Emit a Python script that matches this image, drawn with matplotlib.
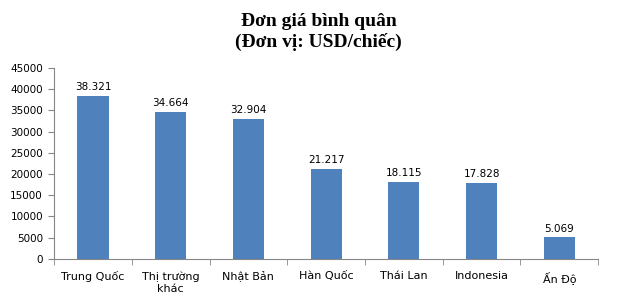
import matplotlib
matplotlib.use('Agg')
from matplotlib import pyplot as plt
import numpy as np

# Data
markets = ['Trung Quốc', 'Thị trường\nkhác', 'Nhật Bản', 'Hàn Quốc', 'Thái Lan', 'Indonesia', 'Ấn Độ']
prices = [38321, 34664, 32904, 21217, 18115, 17828, 5069]
value_labels = ['38.321', '34.664', '32.904', '21.217', '18.115', '17.828', '5.069']

bar_color = '#4F81BD'
axis_color = '#868686'

fig = plt.figure(figsize=(6.37, 3.06), dpi=100)
ax = fig.add_axes([0.085, 0.154, 0.854, 0.624])

x = np.arange(len(markets))
ax.bar(x, prices, width=0.4, color=bar_color, zorder=2)

for xi, val, lab in zip(x, prices, value_labels):
    ax.text(xi, val + 900, lab, ha='center', va='bottom', fontsize=7.5,
            family='DejaVu Sans')

ax.set_xlim(-0.5, len(markets) - 0.5)
ax.set_ylim(0, 45000)
ax.set_yticks(range(0, 45001, 5000))
ax.set_yticklabels([str(v) for v in range(0, 45001, 5000)], fontsize=7.5)

# category labels in the middle, tick marks between categories
ax.set_xticks(x)
ax.set_xticklabels(markets, fontsize=8, linespacing=1.3)
ax.tick_params(axis='x', length=0, pad=9)
ax.set_xticks(np.arange(-0.5, len(markets)), minor=True)
ax.tick_params(axis='x', which='minor', length=4, direction='out', color=axis_color)
ax.tick_params(axis='y', length=4, direction='out', color=axis_color, pad=4)

for side in ['top', 'right']:
    ax.spines[side].set_visible(False)
for side in ['left', 'bottom']:
    ax.spines[side].set_color(axis_color)
    ax.spines[side].set_linewidth(0.8)

fig.text(0.5, 0.958, 'Đơn giá bình quân\n(Đơn vị: USD/chiếc)', ha='center', va='top',
         fontsize=14, fontweight='bold', family='Liberation Serif', linespacing=1.25)

plt.savefig('out.png', dpi=100)
plt.close()
